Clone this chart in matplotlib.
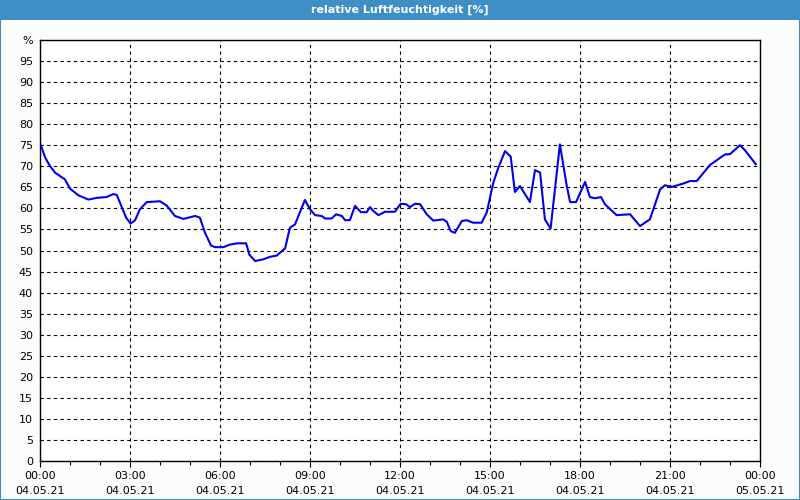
import matplotlib
matplotlib.use("Agg")
import matplotlib.pyplot as plt
from matplotlib.patches import Rectangle

# hours since 04.05.21 00:00
hours = [0, 0.17, 0.33, 0.5, 0.83, 1.0, 1.28, 1.61, 1.89, 2.22, 2.44, 2.56, 2.72, 2.87,
         3.02, 3.17, 3.33, 3.56, 4.0, 4.22, 4.5, 4.78, 5.0, 5.17, 5.33, 5.5, 5.7, 5.83,
         6.11, 6.33, 6.56, 6.87, 6.98, 7.17, 7.44, 7.67, 7.89, 8.17, 8.33, 8.5, 8.83,
         9.0, 9.17, 9.39, 9.5, 9.72, 9.87, 10.06, 10.17, 10.33, 10.5, 10.7, 10.89, 11.0,
         11.11, 11.28, 11.5, 11.83, 12.02, 12.2, 12.33, 12.5, 12.67, 12.89, 13.11, 13.44,
         13.56, 13.69, 13.83, 14.06, 14.22, 14.44, 14.72, 14.89, 15.11, 15.28, 15.5,
         15.69, 15.83, 16.0, 16.33, 16.5, 16.67, 16.83, 17.02, 17.33, 17.56, 17.67,
         17.87, 18.17, 18.33, 18.5, 18.7, 18.83, 19.22, 19.67, 20.0, 20.33, 20.67,
         20.83, 21.06, 21.44, 21.67, 21.89, 22.33, 22.61, 22.83, 23.0, 23.33, 23.5, 23.86]
humidity = [75.6, 72.1, 70.1, 68.5, 66.9, 64.7, 63.1, 62.1, 62.5, 62.7, 63.4, 63.2, 60.4, 57.8,
            56.4, 57.2, 59.8, 61.5, 61.7, 60.7, 58.2, 57.5, 57.9, 58.2, 57.8, 54.2, 51.2, 50.8,
            50.8, 51.4, 51.7, 51.7, 49.0, 47.5, 47.9, 48.5, 48.8, 50.5, 55.4, 56.2, 62.0,
            59.8, 58.4, 58.2, 57.6, 57.6, 58.6, 58.2, 57.2, 57.2, 60.6, 59.1, 59.1, 60.3,
            59.4, 58.4, 59.2, 59.2, 61.1, 61.0, 60.3, 61.1, 61.0, 58.6, 57.1, 57.4,
            56.8, 54.6, 54.2, 57.0, 57.2, 56.6, 56.6, 59.0, 66.1, 69.7, 73.6,
            72.3, 63.9, 65.3, 61.5, 69.1, 68.5, 57.4, 55.2, 75.2, 65.3, 61.5,
            61.5, 66.3, 62.7, 62.4, 62.7, 61.0, 58.4, 58.6, 55.8, 57.4, 64.5,
            65.5, 65.1, 65.9, 66.5, 66.5, 70.3, 71.7, 72.8, 72.9, 75.0, 73.8, 70.5]

xticks = [0, 3, 6, 9, 12, 15, 18, 21, 24]
xlabels = ["00:00\n04.05.21", "03:00\n04.05.21", "06:00\n04.05.21", "09:00\n04.05.21",
           "12:00\n04.05.21", "15:00\n04.05.21", "18:00\n04.05.21", "21:00\n04.05.21",
           "00:00\n05.05.21"]
yticks = list(range(0, 101, 5))
ylabels = [str(v) for v in range(0, 100, 5)] + ["%"]

plt.rcParams['font.family'] = ['DejaVu Sans']
fig = plt.figure(figsize=(8, 5), dpi=100, facecolor='#fbfdfb')

# title bar and border
fig.patches.append(Rectangle((0, 0.96), 1, 0.04, transform=fig.transFigure,
                             facecolor='#3d8fc6', edgecolor='none'))
fig.patches.append(Rectangle((0.0006, 0.001), 0.9988, 0.998, transform=fig.transFigure,
                             facecolor='none', edgecolor='#3d8fc6', linewidth=1.5))
fig.text(0.5, 0.98, "relative Luftfeuchtigkeit [%]", color='white', fontsize=8,
         fontweight='bold', ha='center', va='center')

ax = fig.add_axes([0.05, 0.078, 0.9, 0.842])
ax.set_facecolor('white')
ax.plot(hours, humidity, color='#0000ee', linewidth=1.5)

ax.set_xlim(0, 24)
ax.set_ylim(0, 100)
ax.set_xticks(xticks)
ax.set_xticklabels(xlabels, fontsize=8, linespacing=1.6)
ax.set_xticks(range(0, 25), minor=True)
ax.set_yticks(yticks)
ax.set_yticklabels(ylabels, fontsize=8)

ax.grid(True, which='major', color='black', linestyle=(0, (3, 3)), linewidth=0.8)
ax.tick_params(axis='y', length=0, pad=5)
ax.tick_params(axis='x', which='major', length=4, pad=3, width=0.8)
ax.tick_params(axis='x', which='minor', length=3, width=0.8)
for s in ax.spines.values():
    s.set_color('black')
    s.set_linewidth(1)

fig.savefig("out.png", dpi=100, facecolor=fig.get_facecolor())
